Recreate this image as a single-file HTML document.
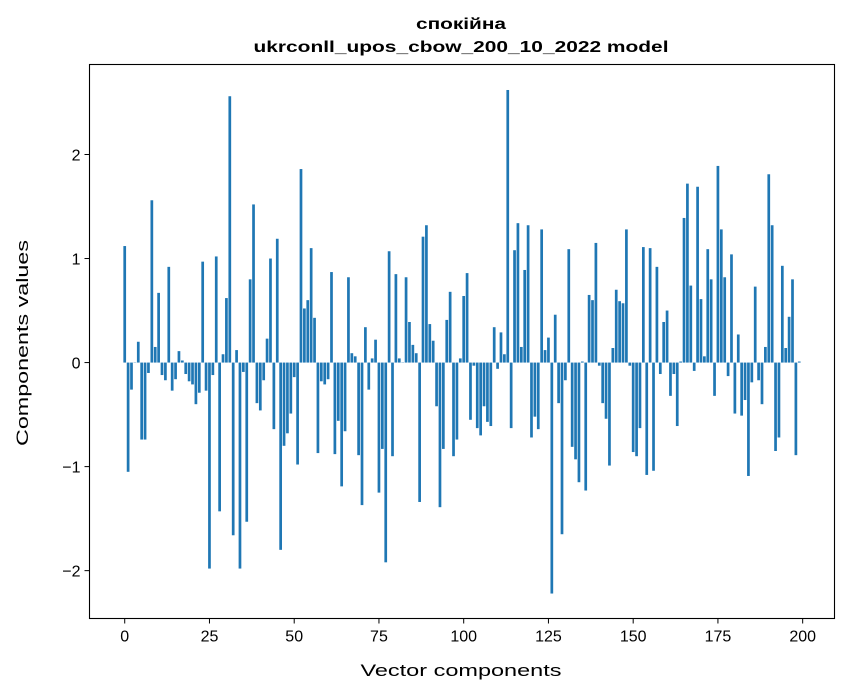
<!DOCTYPE html>
<html><head><meta charset="utf-8"><style>
body{margin:0;background:#fff;}
svg{display:block;font-family:"Liberation Sans","DejaVu Sans",sans-serif;}
</style></head><body>
<svg id="chart" width="847" height="696" viewBox="0 0 847 696" xmlns="http://www.w3.org/2000/svg">
<rect width="847" height="696" fill="#fff"/>
<text x="461" y="29" text-anchor="middle" font-size="16" font-weight="bold" textLength="90" lengthAdjust="spacingAndGlyphs">спокійна</text>
<text x="461" y="52" text-anchor="middle" font-size="16" font-weight="bold" textLength="415" lengthAdjust="spacingAndGlyphs">ukrconll_upos_cbow_200_10_2022 model</text>
<g id="bars"></g>
<g id="xticks"></g>
<g id="yticks"></g>
<rect x="89.5" y="64.5" width="745" height="554" fill="none" stroke="#000" stroke-width="1.1"/>
<text x="461" y="676" text-anchor="middle" font-size="17" textLength="201" lengthAdjust="spacingAndGlyphs">Vector components</text>
<text x="0" y="0" transform="translate(28,343) rotate(-90)" text-anchor="middle" font-size="17" textLength="206" lengthAdjust="spacingAndGlyphs">Components values</text>
</svg>
<script>
const values = [1.12,-1.05,-0.26,0.0,0.20,-0.74,-0.74,-0.10,1.56,0.15,0.67,-0.12,-0.17,0.92,-0.27,-0.16,0.11,0.02,-0.11,-0.18,
-0.21,-0.40,-0.29,0.97,-0.27,-1.98,-0.12,1.02,-1.43,0.08,0.62,2.56,-1.66,0.12,-1.98,-0.09,-1.53,0.80,1.52,-0.39,
-0.46,-0.17,0.23,1.00,-0.64,1.19,-1.80,-0.80,-0.68,-0.49,-0.14,-0.98,1.86,0.52,0.60,1.10,0.43,-0.87,-0.18,-0.21,
-0.16,0.87,-0.88,-0.56,-1.19,-0.66,0.82,0.09,0.06,-0.89,-1.37,0.34,-0.26,0.04,0.22,-1.25,-0.83,-1.92,1.07,-0.90,
0.85,0.04,0.0,0.82,0.39,0.17,0.09,-1.34,1.21,1.32,0.37,0.21,-0.42,-1.39,-0.83,0.41,0.68,-0.90,-0.74,0.04,
0.64,0.86,-0.55,-0.03,-0.63,-0.70,-0.42,-0.57,-0.61,0.34,-0.06,0.29,0.08,2.62,-0.63,1.08,1.34,0.15,0.89,1.32,
-0.72,-0.52,-0.64,1.28,0.12,0.24,-2.22,0.46,-0.39,-1.65,-0.17,1.09,-0.81,-0.93,-1.15,0.01,-1.23,0.65,0.60,1.15,
-0.03,-0.39,-0.54,-0.99,0.14,0.70,0.59,0.57,1.28,-0.03,-0.86,-0.90,-0.63,1.11,-1.08,1.10,-1.04,0.92,-0.11,0.39,
0.50,-0.32,-0.11,-0.61,0.01,1.39,1.72,0.74,-0.08,1.69,0.61,0.06,1.09,0.80,-0.32,1.89,1.28,0.82,-0.13,1.04,
-0.49,0.27,-0.51,-0.36,-1.09,-0.19,0.73,-0.17,-0.40,0.15,1.81,1.32,-0.85,-0.72,0.93,0.14,0.44,0.80,-0.89,0.01];
const xTicks = [0,25,50,75,100,125,150,175,200];
const yTicks = [-2,-1,0,1,2];
const yTickLabels = ["\u22122","\u22121","0","1","2"];

const L=89.5,R=834.5,T=64.5,B=618.5;
const xMin=-10.39,xMax=209.39,yMin=-2.46,yMax=2.865;
function xs(v){return L+(v-xMin)/(xMax-xMin)*(R-L);}
function ys(v){return B-(v-yMin)/(yMax-yMin)*(B-T);}
const NS="http://www.w3.org/2000/svg";
const bars=document.getElementById('bars');
values.forEach((v,i)=>{
  const r=document.createElementNS(NS,'rect');
  
  
  const x0=xs(i-0.4),x1=xs(i+0.4);
  const y0=ys(Math.max(v,0)),y1=ys(Math.min(v,0));
  r.setAttribute('x',x0);r.setAttribute('width',x1-x0);
  r.setAttribute('y',y0);r.setAttribute('height',Math.max(y1-y0,0.3));
  r.setAttribute('fill','#1f77b4');
  bars.appendChild(r);
});
const xg=document.getElementById('xticks');
xTicks.forEach(t=>{
  const l=document.createElementNS(NS,'line');
  
  
  l.setAttribute('x1',xs(t));l.setAttribute('x2',xs(t));l.setAttribute('y1',B);l.setAttribute('y2',B+5);
  l.setAttribute('stroke','#000');
  xg.appendChild(l);
  const tx=document.createElementNS(NS,'text');
  
  
  tx.setAttribute('x',xs(t));tx.setAttribute('y',B+23);
  tx.setAttribute('text-anchor','middle');tx.setAttribute('font-size','16');
  tx.textContent=t;
  xg.appendChild(tx);
});
const yg=document.getElementById('yticks');
yTicks.forEach((t,k)=>{
  const l=document.createElementNS(NS,'line');
  
  
  l.setAttribute('x1',L-5);l.setAttribute('x2',L);l.setAttribute('y1',ys(t));l.setAttribute('y2',ys(t));
  l.setAttribute('stroke','#000');
  yg.appendChild(l);
  const tx=document.createElementNS(NS,'text');
  
  
  tx.setAttribute('x',L-9);tx.setAttribute('y',ys(t)+6);
  tx.setAttribute('text-anchor','end');tx.setAttribute('font-size','16');
  tx.textContent=yTickLabels[k];
  yg.appendChild(tx);
});
</script>
</body></html>
